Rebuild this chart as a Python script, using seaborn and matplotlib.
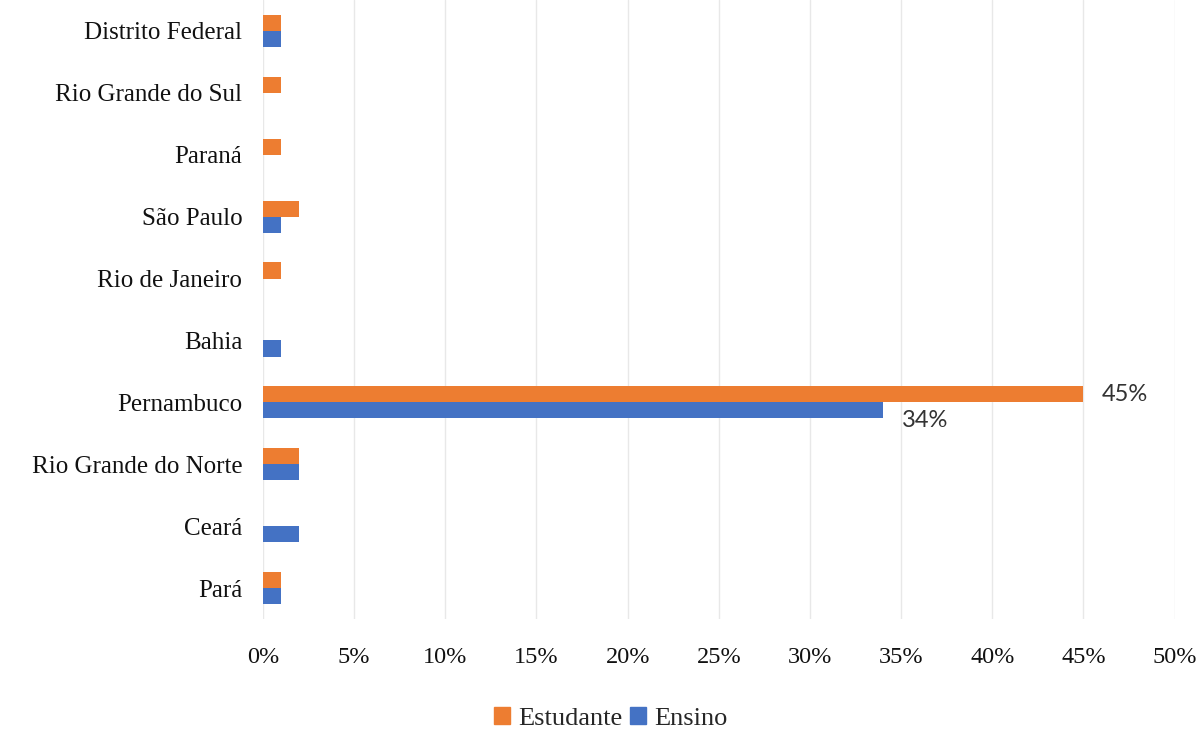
import matplotlib
matplotlib.use("Agg")
import matplotlib.pyplot as plt
import seaborn as sns
import pandas as pd
from matplotlib.ticker import FuncFormatter
from matplotlib.patches import Patch

# Share of participants per state, by group (percent)
states = ["Distrito Federal", "Rio Grande do Sul", "Paraná", "São Paulo",
          "Rio de Janeiro", "Bahia", "Pernambuco", "Rio Grande do Norte",
          "Ceará", "Pará"]
estudante = [1, 1, 1, 2, 1, 0, 45, 2, 0, 1]
ensino = [1, 0, 0, 1, 0, 1, 34, 2, 2, 1]
groups = ["Estudante", "Ensino"]
xticks = [0, 5, 10, 15, 20, 25, 30, 35, 40, 45, 50]

df = pd.DataFrame({
    "estado": states * 2,
    "grupo": [groups[0]] * len(states) + [groups[1]] * len(states),
    "valor": estudante + ensino,
})

sns.set_theme(style="white")
plt.rcParams["font.family"] = ["Liberation Serif", "DejaVu Serif"]

colors = {"Estudante": "#ED7D31", "Ensino": "#4472C4"}

fig = plt.figure(figsize=(11.98, 7.49), dpi=100)
ax = fig.add_axes([0.2195, 0.1736, 0.761, 0.8264])

sns.barplot(data=df, y="estado", x="valor", hue="grupo", order=states,
            hue_order=groups, palette=colors, orient="h", width=0.52,
            saturation=1, linewidth=0, edgecolor="none", ax=ax, legend=False)

ax.set_xlim(0, 50)
ax.set_xticks(xticks)
ax.xaxis.set_major_formatter(FuncFormatter(lambda v, _: f"{v:.0f}%"))
ax.grid(axis="x", color="#E8E8E8", linewidth=1)
ax.set_axisbelow(True)
for s in ax.spines.values():
    s.set_visible(False)
ax.set_xlabel("")
ax.set_ylabel("")
ax.tick_params(axis="y", labelsize=18, pad=15, length=0, labelcolor="#111111")
ax.tick_params(axis="x", labelsize=17.5, pad=20, length=0, labelcolor="#111111")

# value labels for Pernambuco
i = states.index("Pernambuco")
ax.annotate(f"{estudante[i]}%", xy=(estudante[i], i - 0.13), xytext=(13, 0),
            textcoords="offset points", va="center", ha="left", fontsize=17,
            family=["Lato", "DejaVu Sans"], color="#333333")
ax.annotate(f"{ensino[i]}%", xy=(ensino[i], i + 0.13), xytext=(14, -7),
            textcoords="offset points", va="center", ha="left", fontsize=17,
            family=["Lato", "DejaVu Sans"], color="#333333")

handles = [Patch(color=colors[g], label=g) for g in groups]
fig.legend(handles=handles, loc="center", bbox_to_anchor=(0.51, 0.041),
           ncol=2, frameon=False, fontsize=19, handlelength=0.6,
           handleheight=0.6, handletextpad=0.3, columnspacing=0.3)

fig.savefig("out.png", dpi=100)
